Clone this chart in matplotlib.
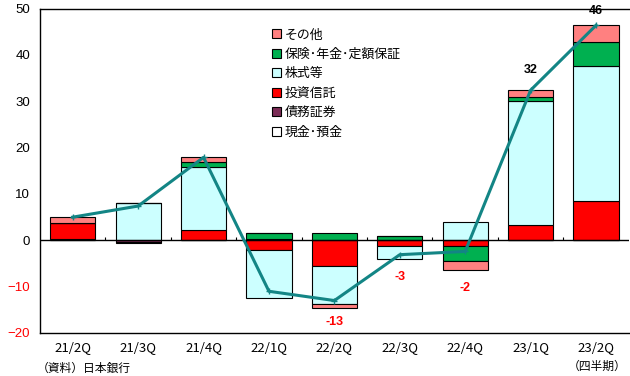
import numpy as np
import matplotlib
matplotlib.use("Agg")
import matplotlib.pyplot as plt

plt.rcParams['font.family'] = ['Noto Sans CJK JP', 'DejaVu Sans']

quarters = ["21/2Q", "21/3Q", "21/4Q", "22/1Q", "22/2Q", "22/3Q", "22/4Q", "23/1Q", "23/2Q"]

# 内訳（兆円）: 積み上げ順
cash      = [0.0, 0.0, 0.0, 0.0, 0.0, 0.0, 0.0, 0.0, 0.0]
bonds     = [0.3, -0.3, 0.0, 0.3, 0.0, 0.0, 0.0, 0.0, 0.0]
trusts    = [3.5, -0.3, 2.3, -2.1, -5.6, -1.2, -1.3, 3.3, 8.4]
stocks    = [0.0, 8.0, 13.5, -10.4, -8.1, -2.9, 4.0, 26.8, 29.3]
insurance = [0.0, 0.0, 1.2, 1.2, 1.6, 1.0, -3.2, 0.8, 5.1]
others    = [1.2, 0.0, 0.9, 0.0, -0.9, 0.0, -1.9, 1.5, 3.6]

# 合計（折れ線）
total = [5.0, 7.4, 17.9, -11.0, -13.0, -3.1, -2.4, 32.4, 46.4]

labels_shown = {4: "-13", 5: "-3", 6: "-2", 7: "32", 8: "46"}
label_y = {4: -17.6, 5: -8.0, 6: -10.3, 7: 36.8, 8: 49.5}

series = [
    ("現金･預金", cash, "#FFFFFF"),
    ("債務証券", bonds, "#7B2C56"),
    ("投資信託", trusts, "#FF0000"),
    ("株式等", stocks, "#CCFFFF"),
    ("保険･年金･定額保証", insurance, "#00B050"),
    ("その他", others, "#FF8080"),
]

fig = plt.figure(figsize=(6.3, 3.76), dpi=100)
ax = fig.add_axes([0.0635, 0.1144, 0.9345, 0.8626])

x = np.arange(len(quarters))
pos_base = np.zeros(len(x))
neg_base = np.zeros(len(x))
handles = []
for name, vals, col in series:
    v = np.array(vals)
    bottom = np.where(v >= 0, pos_base, neg_base)
    b = ax.bar(x, v, 0.69, bottom=bottom, color=col, edgecolor="black",
               linewidth=0.8, label=name, zorder=2)
    handles.append(b)
    pos_base += np.where(v >= 0, v, 0)
    neg_base += np.where(v < 0, v, 0)

ax.plot(x, total, color="#138585", lw=2.2, marker="+", ms=5, mew=1.0, zorder=4)

for i, t in labels_shown.items():
    c = "red" if t.startswith("-") else "black"
    ax.text(i, label_y[i], t, ha="center", va="center", fontsize=9,
            fontweight="bold", color=c, family=["Liberation Sans", "DejaVu Sans"])

ax.axhline(0, color="black", lw=1.0, zorder=3)
ax.vlines(np.arange(0.5, len(x) - 0.5), 0, 0.7, color="black", lw=0.8, zorder=3)

ax.set_xlim(-0.5, len(x) - 0.5)
ax.set_ylim(-20, 50)
ax.set_yticks(np.arange(-20, 51, 10))
ax.set_xticks(x)
ax.set_xticklabels(quarters, fontsize=9.5)
ax.tick_params(axis="both", length=0)
ax.tick_params(axis="x", pad=6)
ax.tick_params(axis="y", pad=7)
for lab, val in zip(ax.get_yticklabels(), np.arange(-20, 51, 10)):
    lab.set_fontsize(9.5)
    lab.set_family(["Liberation Sans", "DejaVu Sans"])
    if val < 0:
        lab.set_color("red")
ax.spines["right"].set_visible(False)
for s in ["left", "bottom", "top"]:
    ax.spines[s].set_linewidth(1.0)

leg = ax.legend(handles[::-1], [s[0] for s in series][::-1], loc="upper left",
                bbox_to_anchor=(0.385, 0.955), frameon=False, fontsize=9.3,
                handlelength=0.7, handleheight=0.7, handletextpad=0.3,
                labelspacing=0.5, borderaxespad=0)

fig.text(0.058, 0.004, "（資料）日本銀行", fontsize=8.5, ha="left", va="bottom")
fig.text(0.995, 0.008, "（四半期）", fontsize=8.5, ha="right", va="bottom")

fig.savefig("out.png", dpi=100)
